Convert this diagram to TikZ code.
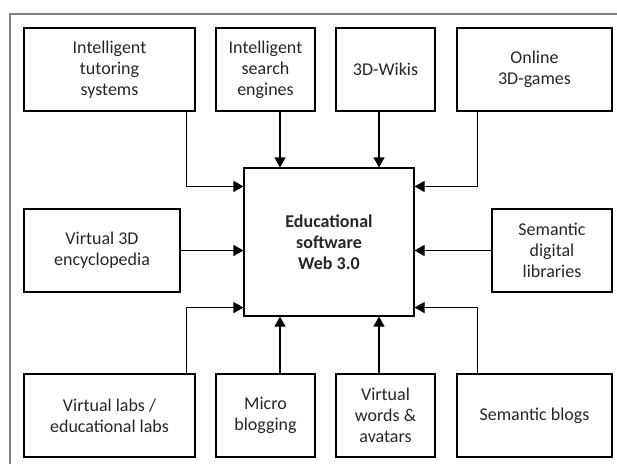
\documentclass[tikz,border=0pt]{standalone}
\usepackage{fontspec}
\setmainfont{Carlito}
\usetikzlibrary{arrows.meta}
\begin{document}
\begin{tikzpicture}[x=1pt,y=-1pt,
  box/.style={draw, line width=1.1pt, align=center, inner sep=0pt, font=\fontsize{18}{21}\selectfont, text=black!85},
  arr/.style={line width=1.1pt, -{Triangle[length=10pt,width=11pt]}},
  frame/.style={draw=black!50, line width=1.4pt}]
\useasboundingbox (0,0) rectangle (617,464);
\draw[frame] (617,14) -- (10,14) -- (10,464);
% central
\node[box, minimum width=170pt, minimum height=148pt, font=\fontsize{18}{21}\selectfont\bfseries] (c) at (329,242) {Educational\\software\\ Web 3.0};
% top row
\node[box, minimum width=171pt, minimum height=83pt] (t1) at (109.5,69.5) {Intelligent\\tutoring\\systems};
\node[box, minimum width=99pt, minimum height=83pt] (t2) at (265.5,69.5) {Intelligent\\search\\engines};
\node[box, minimum width=99pt, minimum height=83pt] (t3) at (385.5,69.5) {3D-Wikis};
\node[box, minimum width=155pt, minimum height=83pt] (t4) at (534.5,69.5) {Online\\3D-games};
% middle row
\node[box, minimum width=156pt, minimum height=83pt] (m1) at (102,250.5) {Virtual 3D\\encyclopedia};
\node[box, minimum width=120pt, minimum height=83pt] (m2) at (552,250.5) {Semantic\\digital\\libraries};
% bottom row
\node[box, minimum width=171pt, minimum height=83pt] (b1) at (109.5,415.5) {Virtual labs /\\educational labs};
\node[box, minimum width=99pt, minimum height=83pt] (b2) at (265.5,415.5) {Micro\\blogging};
\node[box, minimum width=99pt, minimum height=83pt] (b3) at (385.5,415.5) {Virtual\\words \&\\avatars};
\node[box, minimum width=155pt, minimum height=83pt] (b4) at (534.5,415.5) {Semantic blogs};
% connectors
\draw[arr] ([xshift=-9pt]t1.south east) |- ([yshift=-19pt]c.north west);
\draw[arr] ([xshift=14.5pt]t2.south) -- ([xshift=14.5pt]t2.south |- c.north);
\draw[arr] ([xshift=-6.5pt]t3.south) -- ([xshift=-6.5pt]t3.south |- c.north);
\draw[arr] ([xshift=21pt]t4.south west) |- ([yshift=-19pt]c.north east);
\draw[arr] (m1.east) -- (m1.east -| c.west);
\draw[arr] (m2.west) -- (m2.west -| c.east);
\draw[arr] ([xshift=-9pt]b1.north east) |- ([yshift=9pt]c.south west);
\draw[arr] ([xshift=14.5pt]b2.north) -- ([xshift=14.5pt]b2.north |- c.south);
\draw[arr] ([xshift=-6.5pt]b3.north) -- ([xshift=-6.5pt]b3.north |- c.south);
\draw[arr] ([xshift=21pt]b4.north west) |- ([yshift=9pt]c.south east);
\end{tikzpicture}
\end{document}
